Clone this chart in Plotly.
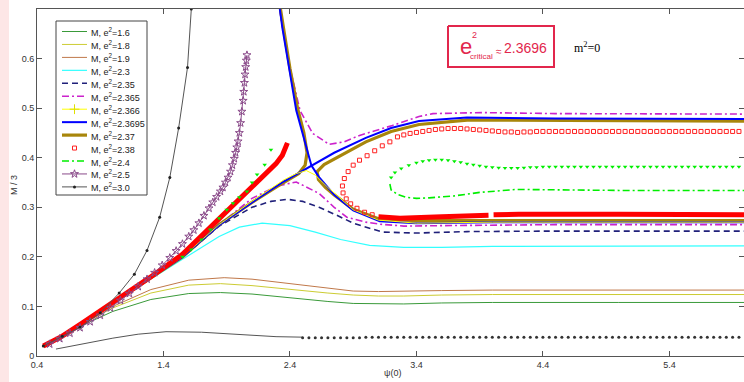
import numpy as np
import plotly.graph_objects as go

# ---------------- data ----------------
E16_X = [0.45, 0.7, 1.0, 1.3, 1.6, 1.85, 2.1, 2.4, 2.7, 2.9, 3.1, 3.3, 3.6, 4.0, 5.0, 6.0]
E16_Y = [0.02, 0.055, 0.09, 0.114, 0.126, 0.128, 0.125, 0.117, 0.11, 0.106, 0.105, 0.105, 0.107, 0.108, 0.108, 0.108]

E18_X = [0.45, 0.7, 1.0, 1.3, 1.6, 1.85, 2.1, 2.4, 2.7, 2.9, 3.1, 3.3, 3.6, 4.0, 5.0, 6.0]
E18_Y = [0.02, 0.057, 0.097, 0.127, 0.143, 0.146, 0.142, 0.134, 0.127, 0.123, 0.121, 0.121, 0.123, 0.124, 0.124, 0.124]

E19_X = [0.45, 0.7, 1.0, 1.3, 1.6, 1.88, 2.1, 2.4, 2.7, 2.9, 3.1, 3.3, 3.6, 4.0, 5.0, 6.0]
E19_Y = [0.02, 0.058, 0.1, 0.134, 0.153, 0.158, 0.155, 0.146, 0.137, 0.131, 0.13, 0.131, 0.132, 0.133, 0.133, 0.133]

E23_X = [0.45, 0.6, 0.76, 1.03, 1.29, 1.55, 1.84, 2.0, 2.18, 2.4, 2.6, 2.8, 3.03, 3.3, 3.6, 4.0, 5.0, 6.0]
E23_Y = [0.02, 0.04, 0.066, 0.111, 0.154, 0.195, 0.241, 0.26, 0.268, 0.263, 0.25, 0.235, 0.223, 0.219, 0.219, 0.221, 0.222, 0.222]

E235_X = [0.45, 0.6, 0.76, 1.03, 1.29, 1.55, 1.84, 2.1, 2.25, 2.38, 2.5, 2.63, 2.77, 2.9, 3.13, 3.4, 3.8, 4.5, 6.0]
E235_Y = [0.02, 0.04, 0.067, 0.112, 0.156, 0.199, 0.262, 0.3, 0.312, 0.316, 0.312, 0.3, 0.284, 0.268, 0.25, 0.248, 0.251, 0.252, 0.252]

E2365_X = [0.45, 0.6, 0.76, 1.03, 1.29, 1.55, 1.84, 2.1, 2.3, 2.45, 2.63, 2.75, 2.85, 3.0, 3.11, 3.3, 3.6, 4.5, 6.0,
           None, 2.32, 2.33, 2.4, 2.48, 2.58, 2.71, 2.83, 2.95, 3.21, 3.42, 3.53, 3.92, 4.5, 6.0]
E2365_Y = [0.02, 0.04, 0.067, 0.112, 0.157, 0.2, 0.265, 0.318, 0.343, 0.351, 0.328, 0.3, 0.28, 0.27, 0.266, 0.262, 0.263, 0.265, 0.265,
           None, 0.7, 0.68, 0.582, 0.495, 0.449, 0.427, 0.432, 0.445, 0.465, 0.483, 0.489, 0.491, 0.489, 0.488]

E2366_X = [0.45, 0.6, 0.76, 1.03, 1.29, 1.55, 1.84, 2.1, 2.35, 2.45, 2.53, 2.6, 2.7, 2.9, 3.1, 3.4, 4.0, 6.0]
E2366_Y = [0.02, 0.04, 0.067, 0.113, 0.157, 0.2, 0.265, 0.312, 0.355, 0.368, 0.374, 0.365, 0.34, 0.295, 0.274, 0.268, 0.27, 0.27]

E23695_X = [0.45, 0.6, 0.76, 1.03, 1.29, 1.55, 1.84, 2.1, 2.35, 2.57, 2.75, 3.0, 3.2, 3.42, 3.8, 4.5, 6.0,
            None, 2.32, 2.34, 2.45, 2.52, 2.57, 2.63, 2.75, 2.9, 3.11, 3.4, 4.0, 6.0]
E23695_Y = [0.02, 0.04, 0.067, 0.113, 0.157, 0.2, 0.264, 0.31, 0.352, 0.384, 0.41, 0.44, 0.46, 0.474, 0.481, 0.479, 0.478,
            None, 0.7, 0.662, 0.495, 0.428, 0.384, 0.361, 0.325, 0.294, 0.272, 0.268, 0.27, 0.27]

E237_X = [0.45, 0.6, 0.76, 1.03, 1.29, 1.55, 1.84, 2.1, 2.35, 2.47, 2.52, 2.535, 2.51, 2.46, 2.4, 2.35, 2.325,
          None, 6.0, 4.5, 3.8, 3.42, 3.2, 3.0, 2.8, 2.67, 2.615, 2.625, 2.68, 2.75, 2.9, 3.1, 3.4, 4.0, 6.0]
E237_Y = [0.02, 0.04, 0.067, 0.113, 0.157, 0.2, 0.265, 0.31, 0.35, 0.368, 0.385, 0.41, 0.45, 0.5, 0.58, 0.66, 0.7,
          None, 0.474, 0.475, 0.476, 0.467, 0.453, 0.432, 0.405, 0.386, 0.372, 0.356, 0.34, 0.325, 0.296, 0.277, 0.273, 0.273, 0.273]

# e^2 = 2.38 : dense (thick) parts and open-square parts
E238_THICK_X = [0.45, 0.6, 0.76, 1.03, 1.29, 1.55, 1.84, 2.1, 2.29, 2.34, 2.38,
                None, 3.1, 3.27, 3.6, 3.97, None, 4.01, 4.21, 5.0, 6.0]
E238_THICK_Y = [0.02, 0.04, 0.067, 0.113, 0.158, 0.205, 0.277, 0.344, 0.388, 0.405, 0.43,
                None, 0.281, 0.278, 0.281, 0.284, None, 0.285, 0.286, 0.286, 0.285]
E238_LOOP_X = [3.25, 3.19, 3.13, 3.07, 3.01, 2.95, 2.9, 2.86, 2.83, 2.815, 2.82, 2.845, 2.88, 2.93, 2.99, 3.05]
E238_LOOP_Y = [0.442, 0.432, 0.424, 0.414, 0.404, 0.395, 0.385, 0.372, 0.358, 0.343, 0.329, 0.317, 0.307, 0.298, 0.29, 0.285]
PSI_GRID_A = np.round(np.arange(3.30, 5.96, 0.05), 2)
E238_UP_Y = [0.446, 0.449, 0.451, 0.453, 0.455, 0.457, 0.458, 0.459, 0.459, 0.459, 0.458, 0.457, 0.456, 0.455,
             0.454, 0.453, 0.452, 0.452, 0.451, 0.452, 0.452, 0.453, 0.453, 0.453, 0.453, 0.453, 0.453, 0.453,
             0.453, 0.453, 0.453, 0.453, 0.453, 0.453, 0.453, 0.453, 0.453, 0.453, 0.453, 0.453, 0.453, 0.453,
             0.453, 0.453, 0.453, 0.453, 0.453, 0.453, 0.453, 0.453, 0.453, 0.453, 0.453, 0.453]

# e^2 = 2.4 : triangles (left branch + upper loop) and dash-dot lower loop
E24_LEFT_X = [1.55, 1.62, 1.7, 1.77, 1.84, 1.9, 1.95, 2.0, 2.06, 2.1, 2.14, 2.2, 2.25]
E24_LEFT_Y = [0.2, 0.215, 0.235, 0.255, 0.278, 0.295, 0.308, 0.32, 0.332, 0.35, 0.366, 0.386, 0.416]
E24_LOOPUP_X = [3.2, 3.23, 3.28, 3.34, 3.4, 3.45, 3.5, 3.55, 3.6, 3.65, 3.7, 3.75, 3.8, 3.85, 3.9, 3.95, 4.0, 4.05, 4.1, 4.15, 4.2, 4.25]
E24_LOOPUP_Y = [0.36, 0.37, 0.378, 0.385, 0.39, 0.393, 0.395, 0.396, 0.396, 0.395, 0.393, 0.391, 0.388, 0.386, 0.384, 0.382, 0.381, 0.38, 0.379, 0.379, 0.379, 0.38]
PSI_GRID_B = np.round(np.arange(4.30, 5.96, 0.05), 2)
E24_PLAT_Y = [0.381, 0.381, 0.382, 0.382, 0.382, 0.382, 0.382, 0.382, 0.382, 0.382, 0.382, 0.382, 0.382, 0.382,
              0.382, 0.382, 0.382, 0.382, 0.382, 0.382, 0.382, 0.382, 0.382, 0.382, 0.382, 0.382, 0.382, 0.382,
              0.382, 0.382, 0.382, 0.382, 0.382, 0.382]
E24_LOW_X = [3.19, 3.2, 3.25, 3.32, 3.4, 3.5, 3.7, 3.9, 4.19, 4.5, 5.0, 6.0]
E24_LOW_Y = [0.347, 0.335, 0.326, 0.32, 0.318, 0.319, 0.323, 0.33, 0.336, 0.335, 0.334, 0.334]

E25_X = [0.5, 0.58, 0.66, 0.74, 0.82, 0.9, 0.98, 1.06, 1.13, 1.2, 1.27, 1.33, 1.39, 1.45, 1.5, 1.55, 1.6, 1.64, 1.68,
         1.72, 1.76, 1.79, 1.82, 1.85, 1.87, 1.89, 1.91, 1.93, 1.945, 1.96, 1.97, 1.98, 1.99, 2.0, 2.01, 2.02, 2.03,
         2.035, 2.04, 2.045, 2.05, 2.055, 2.06]
E25_Y = [0.024, 0.035, 0.046, 0.057, 0.069, 0.082, 0.097, 0.112, 0.126, 0.14, 0.155, 0.168, 0.183, 0.198, 0.212,
         0.226, 0.241, 0.254, 0.268, 0.283, 0.298, 0.31, 0.321, 0.332, 0.34, 0.35, 0.36, 0.372, 0.385, 0.398, 0.41,
         0.421, 0.433, 0.45, 0.47, 0.493, 0.515, 0.533, 0.551, 0.568, 0.583, 0.596, 0.607]

E30_X = [0.45, 0.6, 0.74, 0.9, 1.05, 1.17, 1.27, 1.37, 1.45, 1.52, 1.59, 1.62]
E30_Y = [0.02, 0.04, 0.058, 0.087, 0.127, 0.165, 0.213, 0.28, 0.36, 0.46, 0.582, 0.7]
E30_LOW_X = [0.55, 0.8, 1.0, 1.2, 1.42, 1.7, 2.0, 2.29, 2.5]
E30_LOW_Y = [0.014, 0.027, 0.036, 0.044, 0.049, 0.048, 0.044, 0.039, 0.038]
PSI_GRID_C = np.round(np.arange(2.50, 5.96, 0.05), 2)
E30_TAIL_Y = [0.037, 0.037, 0.037, 0.037, 0.037, 0.037, 0.037, 0.037, 0.037, 0.037, 0.038, 0.038, 0.038, 0.038,
              0.038, 0.038, 0.038, 0.038, 0.038, 0.038, 0.038, 0.038, 0.038, 0.038, 0.038, 0.038, 0.038, 0.038,
              0.038, 0.038, 0.038, 0.038, 0.038, 0.038, 0.038, 0.038, 0.038, 0.038, 0.038, 0.038, 0.038, 0.038,
              0.038, 0.038, 0.038, 0.038, 0.038, 0.038, 0.038, 0.038, 0.038, 0.038, 0.038, 0.038, 0.038, 0.038,
              0.038, 0.038, 0.038, 0.038, 0.038, 0.038, 0.038, 0.038, 0.038, 0.038, 0.038, 0.038, 0.038, 0.038]

X_TICKS = [0.4, 1.4, 2.4, 3.4, 4.4, 5.4]
Y_TICKS = [0, 0.1, 0.2, 0.3, 0.4, 0.5, 0.6]
E2_LABELS = ["1.6", "1.8", "1.9", "2.3", "2.35", "2.365", "2.366", "2.3695", "2.37", "2.38", "2.4", "2.5", "3.0"]

# ---------------- styles ----------------
FONT = "Liberation Sans, Arial, sans-serif"
DASHDOT = "7px,3px,2px,3px"
STY = {
    "1.6": dict(color="#3a9a3a", width=1.0, dash="solid"),
    "1.8": dict(color="#cccc33", width=1.0, dash="solid"),
    "1.9": dict(color="#c0784a", width=1.0, dash="solid"),
    "2.3": dict(color="#33ffff", width=1.2, dash="solid"),
    "2.35": dict(color="#20207a", width=1.6, dash="6px,4px"),
    "2.365": dict(color="#cc22cc", width=1.6, dash=DASHDOT),
    "2.366": dict(color="#ffff00", width=1.0, dash="solid"),
    "2.3695": dict(color="#0000ff", width=2.0, dash="solid"),
    "2.37": dict(color="#a8860b", width=3.2, dash="solid"),
    "2.38": dict(color="#ff2020", width=0, dash="solid"),
    "2.4": dict(color="#00ee00", width=1.6, dash=DASHDOT),
    "2.5": dict(color="#8a4a8a", width=1.0, dash="solid"),
    "3.0": dict(color="#555555", width=1.0, dash="solid"),
}
MARK = {
    "2.366": dict(symbol="cross-thin", size=7, color="#ffff00", line=dict(width=1, color="#e0e000")),
    "2.38": dict(symbol="square-open", size=4, color="#ff2020", line=dict(width=1)),
    "2.5": dict(symbol="star-open", size=6, color="#8a4a8a", line=dict(width=1)),
    "3.0": dict(symbol="circle", size=3, color="#222222"),
}

fig = go.Figure()


def line(x, y, key, mode="lines", marker=None, width=None):
    s = STY[key]
    fig.add_trace(go.Scatter(x=x, y=y, mode=mode, showlegend=False, connectgaps=False,
                             line=dict(color=s["color"], width=width if width else s["width"], dash=s["dash"]),
                             marker=marker))


line(E16_X, E16_Y, "1.6")
line(E18_X, E18_Y, "1.8")
line(E19_X, E19_Y, "1.9")
line(E23_X, E23_Y, "2.3")
line(E235_X, E235_Y, "2.35")
line(E2365_X, E2365_Y, "2.365")
line(E237_X, E237_Y, "2.37")
line(E23695_X, E23695_Y, "2.3695")
line(E2366_X, E2366_Y, "2.366")
# 2.38
fig.add_trace(go.Scatter(x=E238_THICK_X, y=E238_THICK_Y, mode="lines", showlegend=False,
                         line=dict(color="#ff0000", width=5)))
fig.add_trace(go.Scatter(x=E238_LOOP_X + list(PSI_GRID_A), y=E238_LOOP_Y + E238_UP_Y, mode="markers",
                         showlegend=False, marker=MARK["2.38"]))
# 2.4
line(E24_LOW_X, E24_LOW_Y, "2.4")
fig.add_trace(go.Scatter(x=E24_LEFT_X + [None] + E24_LOOPUP_X + list(PSI_GRID_B),
                         y=E24_LEFT_Y + [None] + E24_LOOPUP_Y + E24_PLAT_Y,
                         mode="markers", showlegend=False,
                         marker=dict(symbol="triangle-down", size=4, color="#00ee00")))
# 2.5
line(E25_X, E25_Y, "2.5", mode="lines+markers", marker=MARK["2.5"])
# 3.0
line(E30_X, E30_Y, "3.0", mode="lines+markers", marker=MARK["3.0"])
line(E30_LOW_X, E30_LOW_Y, "3.0")
fig.add_trace(go.Scatter(x=list(PSI_GRID_C), y=E30_TAIL_Y, mode="markers", showlegend=False,
                         marker=dict(symbol="circle", size=3, color="#333333")))

# ---------------- hand-drawn legend on a pixel overlay axis ----------------
PX = dict(xaxis="x2", yaxis="y2", showlegend=False, hoverinfo="skip", cliponaxis=False)
fig.add_trace(go.Scatter(x=[56, 147, 147, 56, 56], y=[21, 21, 195, 195, 21], mode="lines", fill="toself",
                         fillcolor="white", line=dict(color="#444444", width=1), **PX))
LEG_TOP, LEG_STEP = 31.5, 12.95
for i, key in enumerate(E2_LABELS):
    yc = LEG_TOP + i * LEG_STEP
    s = STY[key]
    if s["width"] > 0:
        fig.add_trace(go.Scatter(x=[62, 87], y=[yc, yc], mode="lines",
                                 line=dict(color=s["color"], width=s["width"], dash=s["dash"]), **PX))
    if key in MARK:
        fig.add_trace(go.Scatter(x=[74.5], y=[yc], mode="markers", marker=MARK[key], **PX))
    fig.add_annotation(xref="x2", yref="y2", x=89, y=yc + 0.5, text="M, e<sup>2</sup>=" + key, showarrow=False,
                       xanchor="left", yanchor="middle", font=dict(family=FONT, size=9, color="#222222"))

# ---------------- annotations ----------------
RED = "#e2264c"
fig.add_trace(go.Scatter(x=[448, 554, 554, 448, 448], y=[26, 26, 67, 67, 26], mode="lines", fill="toself",
                         fillcolor="white", line=dict(color=RED, width=2), **PX))
ann = [
    dict(x=466, y=46, text="e", size=22, color=RED),
    dict(x=474, y=35, text="2", size=9, color=RED),
    dict(x=481, y=56, text="critical", size=8, color=RED),
    dict(x=499, y=51, text="≈", size=10, color=RED),
    dict(x=525, y=48, text="2.3696", size=14, color=RED),
]
for a in ann:
    fig.add_annotation(xref="x2", yref="y2", x=a["x"], y=a["y"], text=a["text"], showarrow=False,
                       xanchor="center", yanchor="middle", font=dict(family=FONT, size=a["size"], color=a["color"]))
fig.add_annotation(xref="x2", yref="y2", x=587, y=47, text="m<sup>2</sup>=0", showarrow=False,
                   xanchor="center", yanchor="middle",
                   font=dict(family="Liberation Serif, Times New Roman, serif", size=12, color="black"))
fig.add_annotation(xref="paper", yref="paper", x=(14 - 37) / 707, y=1 - (185 - 9) / 347,
                   text="M / 3", showarrow=False, textangle=-90, xanchor="center", yanchor="middle",
                   font=dict(family=FONT, size=9, color="#333333"))
fig.add_annotation(xref="paper", yref="paper", x=(392 - 37) / 707, y=-(373 - 356) / 347,
                   text="ψ(0)", showarrow=False, xanchor="center", yanchor="middle",
                   font=dict(family=FONT, size=9, color="#333333"))
fig.add_shape(type="rect", xref="paper", yref="paper", x0=-37 / 707, x1=-28 / 707, y0=-26 / 347, y1=1 + 9 / 347,
              line=dict(width=0), fillcolor="#fde6e6", layer="below")

axis_common = dict(showline=True, linecolor="#555555", linewidth=1, mirror="ticks", ticks="inside",
                   ticklen=5, tickcolor="#555555", showgrid=False, zeroline=False, automargin=False,
                   tickfont=dict(family=FONT, size=9, color="#333333"))
fig.update_layout(
    width=744, height=382,
    margin=dict(l=37, r=0, t=9, b=26, autoexpand=False),
    paper_bgcolor="white", plot_bgcolor="white",
    xaxis=dict(range=[0.4, 5.99], tickvals=X_TICKS, ticktext=[str(v) for v in X_TICKS], **axis_common),
    yaxis=dict(range=[0, 0.7], tickvals=Y_TICKS, ticktext=["0", "0.1", "0.2", "0.3", "0.4", "0.5", "0.6"], **axis_common),
    xaxis2=dict(overlaying="x", range=[37, 744], visible=False, fixedrange=True),
    yaxis2=dict(overlaying="y", range=[356, 9], visible=False, fixedrange=True),
    showlegend=False,
)
fig.write_html("out.html", config={"displayModeBar": False},
               post_script="document.body.style.margin='0px';document.body.style.overflow='hidden';")
